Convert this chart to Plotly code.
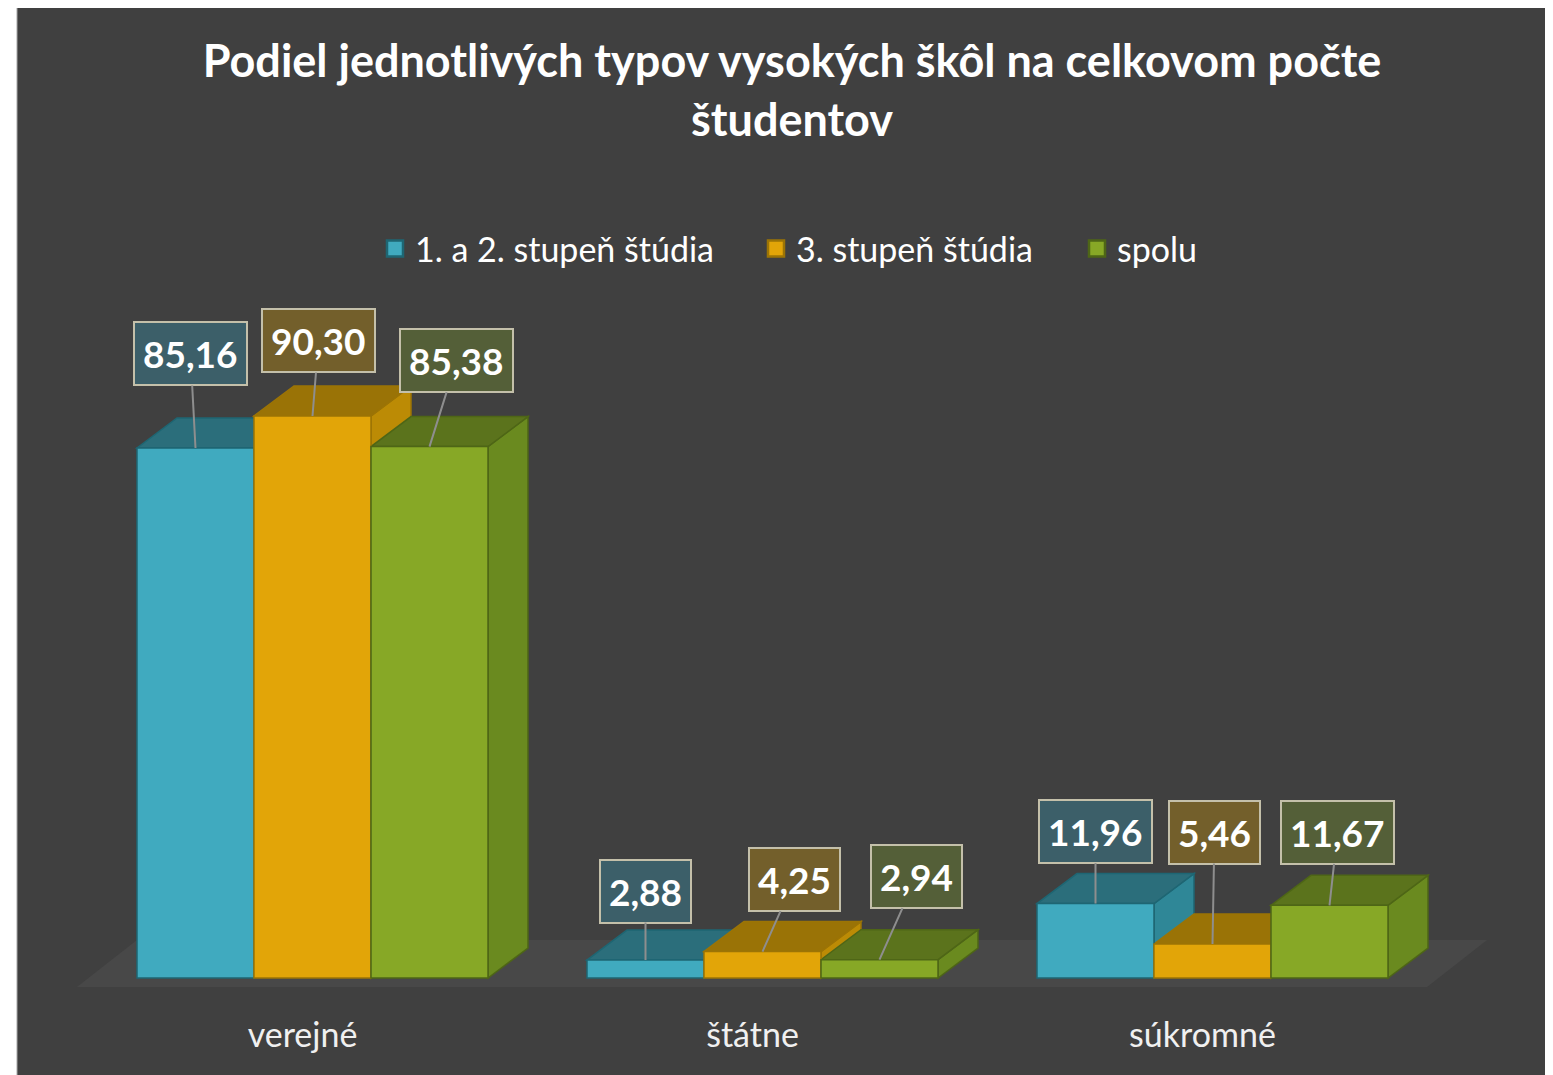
import plotly.graph_objects as go

# ---------------- data ----------------
categories = ["verejné", "štátne", "súkromné"]
series_names = ["1. a 2. stupeň štúdia", "3. stupeň štúdia", "spolu"]
values_12 = [85.16, 2.88, 11.96]
values_3 = [90.30, 4.25, 5.46]
values_spolu = [85.38, 2.94, 11.67]
series_values = [values_12, values_3, values_spolu]

# ---------------- styles ----------------
front_colors = ["#40AABF", "#E2A508", "#87A826"]
top_colors = ["#2B6E7B", "#9A7306", "#5B731C"]
side_colors = ["#2F8797", "#BC8B05", "#6A8A1F"]
edge_colors = ["#1E6673", "#9C7405", "#4E6616"]
label_bg = ["#3C5F69", "#735F2B", "#545F38"]
# label box offsets (pixels) per series, per category
label_offsets = [
    [(-5, -94), (0, -69), (0, -72)],
    [(6, -75), (32, -72), (2, -112)],
    [(27, -86), (37, -83), (8, -73)],
]

OFF = 8  # page body margin
W, H = 1553 - OFF, 1075 - OFF
legend_sym_px = [395 - OFF, 776 - OFF, 1097 - OFF]
PLOT_T, PLOT_B = 152 - OFF, 1000 - OFF
BASE_PX = 978 - OFF
PX_PER_UNIT = 6.224
GROUP_PX = 450
GROUP0_PX = 312.5 - OFF
DEPTH_X_PX, DEPTH_Y_PX = 40, 30
BG = "#404040"
FONT = "Lato"

x_range = [(0 - GROUP0_PX) / GROUP_PX, (W - GROUP0_PX) / GROUP_PX]
y_range = [-(PLOT_B - BASE_PX) / PX_PER_UNIT, (BASE_PX - PLOT_T) / PX_PER_UNIT]
dx = DEPTH_X_PX / GROUP_PX
dy = DEPTH_Y_PX / PX_PER_UNIT
bargap = 0.22
nser = len(series_values)
bw = (1 - bargap) / nser
xpos = list(range(len(categories)))


def py2paper(py):
    return (PLOT_B - py) / (PLOT_B - PLOT_T)


def poly(pts):
    return "M " + " L ".join(f"{x},{y}" for x, y in pts) + " Z"


fig = go.Figure()

# front faces as real bars
for j, (name, vals) in enumerate(zip(series_names, series_values)):
    fig.add_trace(go.Bar(
        x=xpos, y=vals, name=name, showlegend=False,
        marker=dict(color=front_colors[j], line=dict(color=edge_colors[j], width=1.5)),
        hovertemplate="%{y:.2f}<extra>" + name + "</extra>",
    ))

shapes = []
# chart panel
shapes.append(dict(type="rect", xref="paper", yref="paper", layer="below",
                   x0=(17 - OFF) / W, x1=(1552 - OFF) / W, y0=py2paper(H + 20), y1=py2paper(-2),
                   fillcolor=BG, line=dict(color="#a6a6a6", width=1)))
# floor
gl = xpos[0] - (1 - bargap) / 2
gr = xpos[-1] + (1 - bargap) / 2
f_fl = (gl - 60 / GROUP_PX, -9 / PX_PER_UNIT)
f_fr = (gr + 39 / GROUP_PX, -9 / PX_PER_UNIT)
back = (60 / GROUP_PX, 47 / PX_PER_UNIT)
floor = [f_fl, f_fr, (f_fr[0] + back[0], f_fr[1] + back[1]), (f_fl[0] + back[0], f_fl[1] + back[1])]
shapes.append(dict(type="path", xref="x", yref="y", layer="below", path=poly(floor),
                   fillcolor="#484848", line=dict(width=0)))

# 3D side and top faces, drawn left to right behind the front faces
for i in xpos:
    for j, vals in enumerate(series_values):
        v = vals[i]
        xl = i + (j - nser / 2) * bw
        xr = xl + bw
        side = [(xr, 0), (xr, v), (xr + dx, v + dy), (xr + dx, dy)]
        top = [(xl, v), (xr, v), (xr + dx, v + dy), (xl + dx, v + dy)]
        shapes.append(dict(type="path", xref="x", yref="y", layer="between", path=poly(side),
                           fillcolor=side_colors[j], line=dict(color=edge_colors[j], width=1.5)))
        shapes.append(dict(type="path", xref="x", yref="y", layer="between", path=poly(top),
                           fillcolor=top_colors[j], line=dict(color=edge_colors[j], width=1.5)))

# value labels
annotations = []
for j, vals in enumerate(series_values):
    for i, v in enumerate(vals):
        xc = i + (j - (nser - 1) / 2) * bw
        ax, ay = label_offsets[j][i]
        annotations.append(dict(
            x=xc, y=v, xref="x", yref="y", ax=ax, ay=ay,
            text=f"{v:.2f}".replace(".", ","),
            showarrow=True, arrowhead=0, arrowwidth=2, arrowcolor="#8e8e8e",
            bgcolor=label_bg[j], bordercolor="#c4c0aa", borderwidth=2, borderpad=8,
            font=dict(family=FONT, size=37, color="white", weight="bold"),
        ))

# legend entries (one legend per item for exact placement)
legend_keys = ["legend", "legend2", "legend3"]
for j, name in enumerate(series_names):
    fig.add_trace(go.Scatter(
        x=[None], y=[None], mode="markers", name=name, legend=legend_keys[j],
        marker=dict(symbol="square", size=16, color=front_colors[j],
                    line=dict(color=edge_colors[j], width=2.5)),
        showlegend=True,
    ))

legend_common = dict(orientation="h", yanchor="middle", y=py2paper(249 - OFF), xanchor="left",
                     bgcolor="rgba(0,0,0,0)", font=dict(family=FONT, size=34, color="white"),
                     itemsizing="trace")

fig.update_layout(
    width=W, height=H,
    margin=dict(l=0, r=0, t=PLOT_T, b=H - PLOT_B),
    paper_bgcolor="white", plot_bgcolor="rgba(0,0,0,0)",
    barmode="group", bargap=bargap, bargroupgap=0,
    title=dict(text="Podiel jednotlivých typov vysokých škôl na celkovom počte<br>študentov",
               x=(792 - OFF) / W, xanchor="center", y=1 - 69 / H, yanchor="top", yref="container",
               font=dict(family=FONT, size=45, color="white", weight="bold")),
    xaxis=dict(range=x_range, tickvals=[i - 10 / GROUP_PX for i in xpos], ticktext=categories,
               showgrid=False, zeroline=False, showline=False, ticks="",
               tickfont=dict(family=FONT, size=34, color="#f0f0f0"), ticklabelstandoff=12,
               fixedrange=True),
    yaxis=dict(range=y_range, showgrid=False, zeroline=False, showline=False,
               showticklabels=False, ticks="", fixedrange=True),
    shapes=shapes, annotations=annotations,
    legend=dict(x=(legend_sym_px[0] - 20) / W, **legend_common),
    legend2=dict(x=(legend_sym_px[1] - 20) / W, **legend_common),
    legend3=dict(x=(legend_sym_px[2] - 20) / W, **legend_common),
)

fig.write_html("out.html")
